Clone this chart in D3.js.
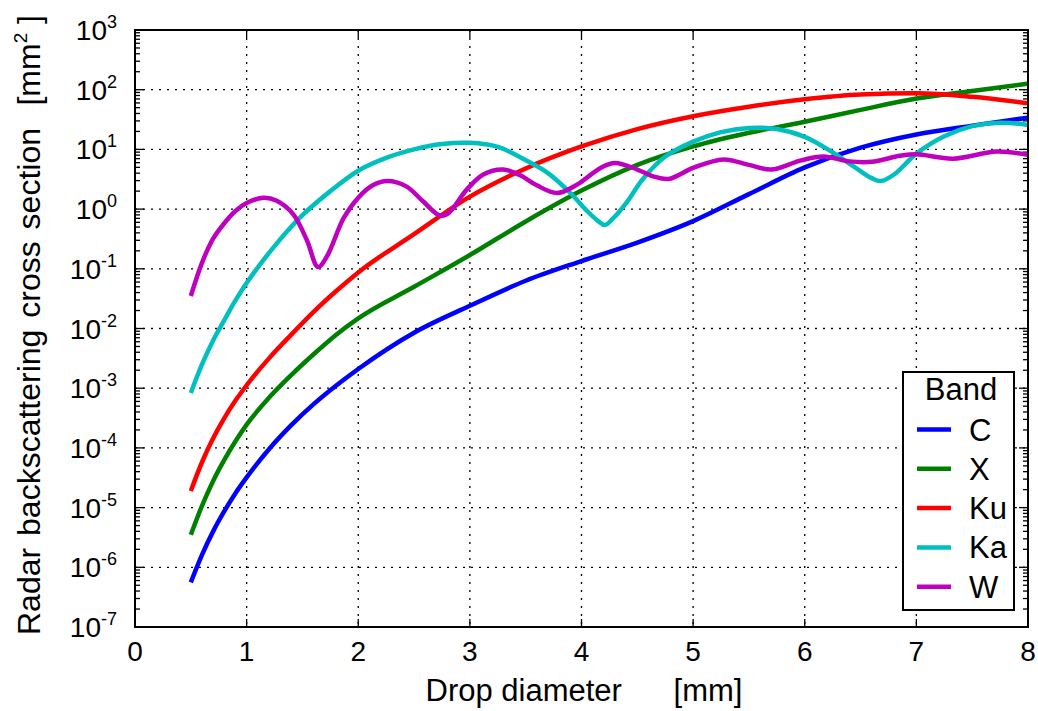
<!DOCTYPE html>
<html>
<head>
<meta charset="utf-8">
<script src="https://cdn.jsdelivr.net/npm/d3@7"></script>
<style>
  body { margin: 0; background: #fff; }
  svg { display: block; }
  text { font-family: "Liberation Sans", Arial, Helvetica, sans-serif; fill: #000; }
</style>
</head>
<body>
<svg id="chart" width="1038" height="711"></svg>
<script>
// Radar backscattering cross section of rain drops per radar band (mm²)

const xTickValues = [0, 1, 2, 3, 4, 5, 6, 7, 8];
const yExponents = [-7, -6, -5, -4, -3, -2, -1, 0, 1, 2, 3];

const bandNames = ["C", "X", "Ku", "Ka", "W"];
const bandColors = ["#0000ff", "#008000", "#ff0000", "#00bfbf", "#bf00bf"];

// Drop diameters (mm) for the low-frequency bands
const diamLow = [0.5, 0.6, 0.7, 0.8, 0.9, 1.0, 1.2, 1.4, 1.6, 1.8, 2.0, 2.5, 3.0, 3.5,
                 4.0, 4.5, 5.0, 5.5, 6.0, 6.5, 7.0, 7.5, 8.0];

const sigmaC = [5.6e-7, 1.62e-6, 4.0e-6, 8.7e-6, 1.74e-5, 3.2e-5, 9.5e-5, 2.4e-4, 5.4e-4,
                1.1e-3, 2.1e-3, 8.5e-3, 0.024, 0.063, 0.135, 0.275, 0.63, 1.78, 5.0, 10.7,
                17.8, 25, 34];

const sigmaX = [3.5e-6, 1.07e-5, 2.8e-5, 6.3e-5, 1.29e-4, 2.45e-4, 6.9e-4, 1.66e-3, 3.7e-3,
                7.8e-3, 0.0148, 0.05, 0.17, 0.62, 2.04, 5.5, 11.2, 19, 29, 46, 71, 95, 126];

const sigmaKu = [1.9e-5, 5.75e-5, 1.45e-4, 3.16e-4, 6.2e-4, 1.12e-3, 3.16e-3, 7.9e-3, 0.019,
                 0.042, 0.087, 0.38, 1.62, 4.8, 11.2, 21.9, 36, 52, 69, 83, 87, 76, 59];

// Ka band
const diamKa = [0.5, 0.6, 0.7, 0.8, 0.9, 1.0, 1.25, 1.5, 1.75, 2.0, 2.25, 2.5, 2.75, 3.0, 3.25,
                3.5, 3.7, 3.9, 4.05, 4.15, 4.21, 4.28, 4.4, 4.55, 4.75, 5.0, 5.25, 5.5, 5.75,
                6.0, 6.25, 6.45, 6.6, 6.68, 6.8, 7.0, 7.25, 7.5, 7.75, 8.0];
const sigmaKa = [8.3e-4, 2.5e-3, 6.3e-3, 0.0138, 0.0295, 0.058, 0.24, 0.79, 2.0, 4.4, 7.2, 10,
                 12.3, 12.9, 11.0, 6.6, 4.0, 1.86, 0.93, 0.63, 0.54, 0.69, 1.26, 3.2, 7.6, 13.5,
                 19.5, 22.9, 21.9, 16.2, 8.9, 5.0, 3.3, 2.95, 3.8, 8.5, 16.6, 24.5, 28, 25.7];

// W band
const diamW = [0.5, 0.6, 0.7, 0.8, 0.9, 1.0, 1.15, 1.27, 1.42, 1.54, 1.64, 1.72, 1.87, 2.0,
               2.13, 2.26, 2.43, 2.58, 2.73, 2.8, 2.97, 3.12, 3.3, 3.45, 3.6, 3.78, 3.96, 4.17,
               4.3, 4.5, 4.65, 4.78, 5.0, 5.27, 5.5, 5.7, 5.96, 6.17, 6.4, 6.6, 6.85, 7.0, 7.33,
               7.72, 8.0];
const sigmaW = [0.035, 0.126, 0.32, 0.58, 0.93, 1.26, 1.55, 1.38, 0.81, 0.30, 0.107, 0.162, 0.71,
                1.55, 2.5, 2.95, 2.4, 1.35, 0.78, 0.83, 2.1, 3.8, 4.6, 3.7, 2.5, 1.86, 2.57, 4.9,
                5.9, 4.6, 3.5, 3.2, 4.9, 6.8, 5.5, 4.6, 6.5, 7.6, 6.3, 6.2, 7.8, 8.3, 7.0, 9.2,
                8.1];

const seriesDiam = [diamLow, diamLow, diamLow, diamKa, diamW];
const seriesSigma = [sigmaC, sigmaX, sigmaKu, sigmaKa, sigmaW];
const seriesCurve = [d3.curveMonotoneX, d3.curveMonotoneX, d3.curveMonotoneX,
                     d3.curveCatmullRom.alpha(0.5), d3.curveCatmullRom.alpha(0.5)];

// ---- layout ----
const svg = d3.select("#chart");
const plot = { left: 135, right: 1028, top: 30, bottom: 627 };

const x = d3.scaleLinear().domain([0, 8]).range([plot.left, plot.right]);
const y = d3.scaleLog().domain([1e-7, 1e3]).range([plot.bottom, plot.top]);

// dotted grid
const grid = svg.append("g").attr("stroke", "#000").attr("stroke-width", 1.3)
  .attr("stroke-dasharray", "2,6").attr("fill", "none");
xTickValues.slice(1, -1).forEach(v => {
  grid.append("line").attr("x1", x(v)).attr("x2", x(v)).attr("y1", plot.top).attr("y2", plot.bottom);
});
yExponents.slice(1, -1).forEach(e => {
  grid.append("line").attr("x1", plot.left).attr("x2", plot.right)
    .attr("y1", y(Math.pow(10, e))).attr("y2", y(Math.pow(10, e)));
});

// inner tick marks on all four sides
const ticks = svg.append("g").attr("stroke", "#000").attr("stroke-width", 1.3);
const minorVals = [];
yExponents.slice(0, -1).forEach(e => {
  for (let m = 2; m <= 9; m++) minorVals.push(m * Math.pow(10, e));
});
minorVals.forEach(v => {
  const yy = y(v);
  ticks.append("line").attr("x1", plot.left).attr("x2", plot.left + 5).attr("y1", yy).attr("y2", yy);
  ticks.append("line").attr("x1", plot.right).attr("x2", plot.right - 5).attr("y1", yy).attr("y2", yy);
});
yExponents.forEach(e => {
  const yy = y(Math.pow(10, e));
  ticks.append("line").attr("x1", plot.left).attr("x2", plot.left + 9).attr("y1", yy).attr("y2", yy);
  ticks.append("line").attr("x1", plot.right).attr("x2", plot.right - 9).attr("y1", yy).attr("y2", yy);
});
xTickValues.forEach(v => {
  ticks.append("line").attr("x1", x(v)).attr("x2", x(v)).attr("y1", plot.bottom).attr("y2", plot.bottom - 8);
  ticks.append("line").attr("x1", x(v)).attr("x2", x(v)).attr("y1", plot.top).attr("y2", plot.top + 8);
});

// curves
svg.append("clipPath").attr("id", "plotClip").append("rect")
  .attr("x", plot.left).attr("y", plot.top)
  .attr("width", plot.right - plot.left).attr("height", plot.bottom - plot.top);

const curves = svg.append("g").attr("clip-path", "url(#plotClip)");
bandNames.forEach((name, i) => {
  const pts = d3.zip(seriesDiam[i], seriesSigma[i]);
  const line = d3.line()
    .x(d => x(d[0]))
    .y(d => y(d[1]))
    .curve(seriesCurve[i]);
  curves.append("path")
    .attr("d", line(pts))
    .attr("fill", "none")
    .attr("stroke", bandColors[i])
    .attr("stroke-width", 4.5)
    .attr("stroke-linejoin", "round");
});

// frame
svg.append("rect").attr("x", plot.left).attr("y", plot.top)
  .attr("width", plot.right - plot.left).attr("height", plot.bottom - plot.top)
  .attr("fill", "none").attr("stroke", "#000").attr("stroke-width", 2);

// tick labels
svg.append("g").selectAll("text").data(xTickValues).join("text")
  .attr("x", d => x(d)).attr("y", 661)
  .attr("text-anchor", "middle").attr("font-size", 28)
  .text(d => d);

const yLab = svg.append("g").selectAll("text").data(yExponents).join("text")
  .attr("x", 117).attr("y", d => y(Math.pow(10, d)) + 10)
  .attr("text-anchor", "end").attr("font-size", 28);
yLab.append("tspan").text("10");
yLab.append("tspan").attr("dy", -12).attr("font-size", 18).text(d => String(d));

// axis titles
svg.append("text")
  .attr("x", 584).attr("y", 701)
  .attr("text-anchor", "middle").attr("font-size", 31)
  .style("white-space", "pre")
  .text("Drop diameter      [mm]");

svg.append("text")
  .attr("transform", "translate(40,635) rotate(-90)")
  .attr("text-anchor", "start").attr("font-size", 32)
  .attr("word-spacing", 3)
  .text("Radar backscattering cross section");

const yUnit = svg.append("text")
  .attr("transform", "translate(40,15) rotate(-90)")
  .attr("text-anchor", "end").attr("font-size", 32)
  .style("white-space", "pre");
yUnit.append("tspan").text("[mm");
yUnit.append("tspan").attr("dy", -13).attr("font-size", 19).text("2");
yUnit.append("tspan").attr("dy", 13).text(" ]");

// legend
const lg = svg.append("g");
lg.append("rect").attr("x", 903).attr("y", 372).attr("width", 111).attr("height", 238)
  .attr("fill", "#fff").attr("stroke", "#000").attr("stroke-width", 2);
lg.append("text").attr("x", 961).attr("y", 400).attr("text-anchor", "middle")
  .attr("font-size", 31).text("Band");
bandNames.forEach((name, i) => {
  const yy = 429.5 + i * 39.3;
  lg.append("line").attr("x1", 917).attr("x2", 951).attr("y1", yy).attr("y2", yy)
    .attr("stroke", bandColors[i]).attr("stroke-width", 4.5);
  lg.append("text").attr("x", 969).attr("y", yy + 11).attr("font-size", 31).text(name);
});
</script>
</body>
</html>
